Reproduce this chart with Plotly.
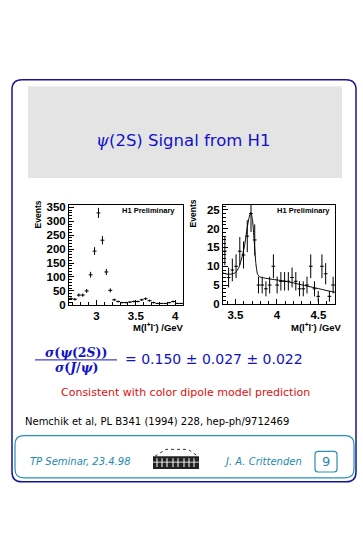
import numpy as np
import plotly.graph_objects as go

W, H = 363, 535

# ---------------- data ----------------
# Left panel: J/psi region, M(l+l-) in GeV, events per bin
jpsi_mass = [2.675, 2.725, 2.775, 2.825, 2.875, 2.925, 2.975, 3.025, 3.075, 3.125,
             3.175, 3.225, 3.275, 3.325, 3.375, 3.425, 3.475, 3.525, 3.575, 3.625,
             3.675, 3.725, 3.775, 3.825, 3.875, 3.925, 3.975, 4.025, 4.075]
jpsi_events = [22, 20, 35, 35, 50, 108, 193, 330, 232, 118,
               52, 18, 12, 8, 8, 10, 12, 12, 18, 22,
               15, 8, 5, 5, 5, 8, 12, 5, 5]
jpsi_halfbin = 0.025

# Right panel: psi(2S) region
psi_mass = [3.3725, 3.4175, 3.4625, 3.5075, 3.5525, 3.5975, 3.6425, 3.6875, 3.7325, 3.7775,
            3.8225, 3.8675, 3.9125, 3.9575, 4.0025, 4.0475, 4.0925, 4.1375, 4.1825, 4.2275,
            4.2725, 4.3175, 4.3625, 4.4075, 4.4525, 4.4975, 4.5425, 4.5875, 4.6325, 4.6775]
psi_events = [14, 7, 9, 10, 14, 13, 18, 24, 17, 5,
              5, 4, 5, 10, 5, 6, 6, 6, 7, 6,
              4, 4, 5, 10, 4, 2, 10, 8, 2, 5]
psi_halfbin = 0.0225

# Fit curve drawn over the psi(2S) panel
fit_mass = [3.35, 3.40, 3.45, 3.50, 3.54, 3.58, 3.61, 3.64, 3.665, 3.685, 3.705, 3.725,
            3.745, 3.765, 3.79, 3.84, 3.95, 4.05, 4.15, 4.25, 4.35, 4.45, 4.55, 4.65, 4.70]
fit_events = [8.2, 7.9, 7.9, 8.3, 9.6, 12.5, 15.5, 20.0, 23.0, 24.3, 22.5, 17.0,
              11.0, 8.0, 7.2, 6.9, 6.5, 6.2, 5.8, 5.3, 4.8, 4.3, 3.8, 3.3, 3.1]

left_xticks = [3, 3.5, 4]
left_yticks = [0, 50, 100, 150, 200, 250, 300, 350]
right_xticks = [3.5, 4, 4.5]
right_yticks = [0, 5, 10, 15, 20, 25]

# ---------------- helpers ----------------
def X(p):
    return p / W

def Y(p):
    return 1 - p / H

def rounded(x0, y0, x1, y1, r):
    pts = []
    pts.append("M %f,%f" % (X(x0 + r), Y(y0)))
    pts.append("L %f,%f" % (X(x1 - r), Y(y0)))
    pts.append("Q %f,%f %f,%f" % (X(x1), Y(y0), X(x1), Y(y0 + r)))
    pts.append("L %f,%f" % (X(x1), Y(y1 - r)))
    pts.append("Q %f,%f %f,%f" % (X(x1), Y(y1), X(x1 - r), Y(y1)))
    pts.append("L %f,%f" % (X(x0 + r), Y(y1)))
    pts.append("Q %f,%f %f,%f" % (X(x0), Y(y1), X(x0), Y(y1 - r)))
    pts.append("L %f,%f" % (X(x0), Y(y0 + r)))
    pts.append("Q %f,%f %f,%f Z" % (X(x0), Y(y0), X(x0 + r), Y(y0)))
    return " ".join(pts)

annotations = []

def ann(text, x, y, size, color="black", xanchor="center", family="DejaVu Sans",
        weight="normal", angle=0, style="normal"):
    annotations.append(dict(
        text=text, x=X(x), y=Y(y), xref="paper", yref="paper", showarrow=False,
        xanchor=xanchor, yanchor="middle", textangle=angle,
        font=dict(size=size, color=color, family=family, weight=weight, style=style)))

fig = go.Figure()

# ---------------- traces ----------------
fig.add_trace(go.Scatter(
    x=jpsi_mass, y=jpsi_events, mode="markers", xaxis="x", yaxis="y",
    marker=dict(size=1, color="black"),
    error_y=dict(type="data", array=np.sqrt(jpsi_events), color="black", thickness=1, width=0),
    error_x=dict(type="constant", value=jpsi_halfbin, color="black", thickness=1, width=0),
    showlegend=False, hoverinfo="skip"))

fig.add_trace(go.Scatter(
    x=psi_mass, y=psi_events, mode="markers", xaxis="x2", yaxis="y2",
    marker=dict(size=1, color="black"),
    error_y=dict(type="data", array=np.sqrt(psi_events), color="black", thickness=1, width=0),
    error_x=dict(type="constant", value=psi_halfbin, color="black", thickness=1, width=0),
    showlegend=False, hoverinfo="skip"))

fig.add_trace(go.Scatter(
    x=fit_mass, y=fit_events, mode="lines", xaxis="x2", yaxis="y2",
    line=dict(color="black", width=1, shape="spline", smoothing=0.5),
    showlegend=False, hoverinfo="skip"))

# ---------------- axes ----------------
tickfont = dict(family="Liberation Sans", size=11.5, color="black", weight="bold")
common = dict(showline=True, mirror=True, linecolor="black", linewidth=1,
              ticks="inside", ticklen=5, tickcolor="black", showgrid=False,
              zeroline=False, tickfont=tickfont, fixedrange=True, tickmode="array")

L_x0, L_x1, L_y0, L_y1 = 69, 183, 205, 307
R_x0, R_x1, R_y0, R_y1 = 223, 335, 205, 306

fig.update_layout(
    xaxis=dict(domain=[X(L_x0), X(L_x1)], range=[2.65, 4.1], tickvals=left_xticks,
               ticktext=[str(v) for v in left_xticks], anchor="y",
               minor=dict(ticks="inside", ticklen=3, dtick=0.1, tick0=2.7, tickcolor="black"),
               **common),
    yaxis=dict(domain=[Y(L_y1), Y(L_y0)], range=[0, 360], tickvals=left_yticks, anchor="x",
               minor=dict(ticks="inside", ticklen=3, dtick=10, tick0=0, tickcolor="black"),
               **common),
    xaxis2=dict(domain=[X(R_x0), X(R_x1)], range=[3.35, 4.7], tickvals=right_xticks,
                ticktext=[str(v) for v in right_xticks], anchor="y2",
                minor=dict(ticks="inside", ticklen=3, dtick=0.1, tick0=3.4, tickcolor="black"),
                **common),
    yaxis2=dict(domain=[Y(R_y1), Y(R_y0)], range=[0, 26.4], tickvals=right_yticks, anchor="x2",
                minor=dict(ticks="inside", ticklen=3, dtick=1, tick0=0, tickcolor="black"),
                **common),
)

# ---------------- slide decorations ----------------
shapes = []
shapes.append(dict(type="rect", xref="paper", yref="paper", x0=X(28), x1=X(342), y0=Y(178), y1=Y(85),
                   fillcolor="#e4e4e4", line=dict(width=0), layer="below"))
shapes.append(dict(type="path", xref="paper", yref="paper", path=rounded(12, 78, 356, 487, 10),
                   line=dict(color="#14149a", width=1.5)))
shapes.append(dict(type="path", xref="paper", yref="paper", path=rounded(15, 440, 354, 483, 9),
                   line=dict(color="#2a8fb5", width=1.2)))
shapes.append(dict(type="path", xref="paper", yref="paper", path=rounded(315, 456, 337, 477, 3),
                   line=dict(color="#2a8fb5", width=1.2)))
# fraction bar
shapes.append(dict(type="line", xref="paper", yref="paper", x0=X(35), x1=X(117), y0=Y(363), y1=Y(363),
                   line=dict(color="#1414c8", width=1)))
# small logo (building sketch)
shapes.append(dict(type="path", xref="paper", yref="paper",
                   path="M %f,%f L %f,%f L %f,%f L %f,%f" % (X(155), Y(461), X(166), Y(454), X(188), Y(454), X(198), Y(461)),
                   line=dict(color="black", width=0.8, dash="dot")))
shapes.append(dict(type="rect", xref="paper", yref="paper", x0=X(153), x1=X(199), y0=Y(474), y1=Y(461),
                   fillcolor="#222222", line=dict(width=0)))
for lx in [157, 162, 167, 173, 178, 184, 189, 194]:
    shapes.append(dict(type="line", xref="paper", yref="paper", x0=X(lx), x1=X(lx), y0=Y(472), y1=Y(463),
                       line=dict(color="white", width=1)))
shapes.append(dict(type="line", xref="paper", yref="paper", x0=X(153), x1=X(199), y0=Y(467), y1=Y(467),
                   line=dict(color="white", width=0.8)))

# ---------------- texts ----------------
BLUE = "#1212c4"
ann("<span style='font-family:DejaVu Serif'><i>ψ</i></span>(2S) Signal from H1", 183, 140, 16.5, BLUE)

ann("H1 Preliminary", 177, 211, 7.5, "black", "right", "Liberation Sans", "bold")
ann("H1 Preliminary", 332, 211, 7.5, "black", "right", "Liberation Sans", "bold")
ann("Events", 38, 215, 8.5, "black", "center", "Liberation Sans", "bold", angle=-90)
ann("Events", 193, 214, 8.5, "black", "center", "Liberation Sans", "bold", angle=-90)
ann("M(l<sup>+</sup>l<sup>-</sup>) /GeV", 186, 330, 9.5, "black", "right", "Liberation Sans", "bold")
ann("M(l<sup>+</sup>l<sup>-</sup>) /GeV", 344, 330, 9.5, "black", "right", "Liberation Sans", "bold")

ann("<i>σ</i>(<i>ψ</i>(2<i>S</i>))", 76, 355, 12.5, BLUE, "center", "DejaVu Serif", "bold")
ann("<i>σ</i>(<i>J</i>/<i>ψ</i>)", 76, 371, 12.5, BLUE, "center", "DejaVu Serif", "bold")
ann("= 0.150 ± 0.027 ± 0.022", 123, 362, 14, BLUE, "left")

ann("Consistent with color dipole model prediction", 185, 396, 11, "#e01010")
ann("Nemchik et al, PL B341 (1994) 228, hep-ph/9712469", 23, 426, 10, "black", "left")

TEAL = "#2188b0"
ann("TP Seminar, 23.4.98", 28, 466, 10, TEAL, "left", style="italic")
ann("J. A. Crittenden", 222, 466, 10, TEAL, "left", style="italic")
ann("9", 326, 466, 13, TEAL, "center")

fig.update_layout(
    width=W, height=H, autosize=False,
    margin=dict(l=0, r=0, t=0, b=0),
    paper_bgcolor="white", plot_bgcolor="white",
    shapes=shapes, annotations=annotations,
    showlegend=False,
)

fig.write_html("out.html", config={"displayModeBar": False},
               post_script="document.body.style.margin='0';document.body.style.overflow='hidden';")
